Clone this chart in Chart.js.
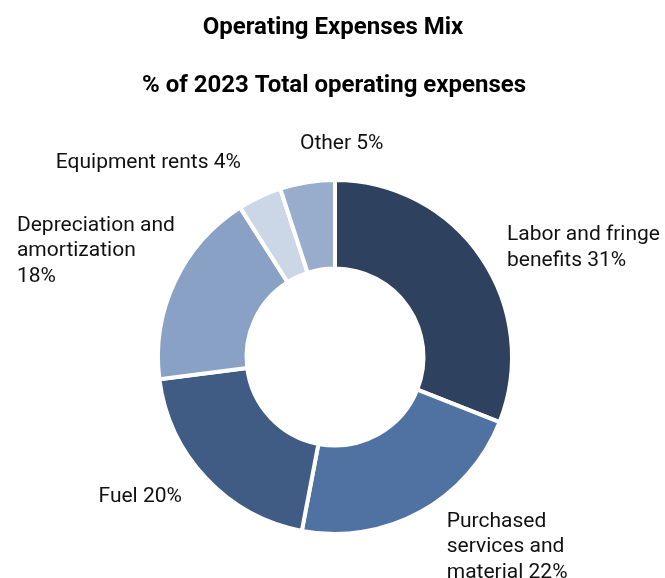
<!DOCTYPE html>
<html>
<head>
<meta charset="utf-8">
<script src="https://cdn.jsdelivr.net/npm/chart.js@4/dist/chart.umd.min.js"></script>
<style>
  html, body { margin: 0; padding: 0; background: #fff; }
  #wrap { width: 665px; height: 578px; }
</style>
</head>
<body>
<div id="wrap"><canvas id="mixChart" width="665" height="578"></canvas></div>
<script>
// =========================
// DATA
// =========================
const categories = [
    ["Labor and fringe", "benefits 31%"],
    ["Purchased", "services and", "material 22%"],
    ["Fuel 20%"],
    ["Depreciation and", "amortization", "18%"],
    ["Equipment rents 4%"],
    ["Other 5%"]
];
const shares = [31, 22, 20, 18, 4, 5];
const sliceColors = ["#2e415f", "#5072a2", "#405c85", "#88a1c4", "#cbd7e6", "#98accc"];

const titleText = "Operating Expenses Mix";
const subtitleText = "% of 2023 Total operating expenses";

// label placement: distance beyond outer edge, block side, baseline shift
const labelLayout = [
    { gap: 31, side: "left",  dy: 0,   lineAnchor: 0 },
    { gap: 55, side: "left",  dy: 0,   lineAnchor: 0.66 },
    { gap: 33, side: "right", dy: 1,   lineAnchor: 0 },
    { gap: 0,  side: "right", dy: 0,   lineAnchor: 1 },
    { gap: 44, side: "right", dy: 11,  lineAnchor: 0 },
    { gap: 47, side: "left",  dy: 13,  lineAnchor: 0 }
];
const LINE_H = 25.5;
const LABEL_FONT = "21px Roboto";

// =========================
// TITLES + OUTSIDE LABELS
// =========================
const textPlugin = {
    id: "textPlugin",
    afterDraw(chart) {
        const c = chart.ctx;
        const w = chart.width;
        c.save();
        c.fillStyle = "#000";
        c.textAlign = "center";
        c.textBaseline = "alphabetic";
        c.font = "bold 24px Roboto";
        c.fillText(titleText, 333, 34);
        c.fillText(subtitleText, 334, 92);

        c.font = LABEL_FONT;
        c.fillStyle = "#111";
        c.textAlign = "left";
        const arcs = chart.getDatasetMeta(0).data;
        arcs.forEach((arc, i) => {
            const lay = labelLayout[i];
            const lines = categories[i];
            const mid = (arc.startAngle + arc.endAngle) / 2;
            const r = arc.outerRadius + lay.gap;
            const ax = arc.x + Math.cos(mid) * r;
            const ay = arc.y + Math.sin(mid) * r;
            const blockW = Math.max(...lines.map(l => c.measureText(l).width));
            const x0 = lay.side === "left" ? ax : ax - blockW;
            const firstBase = ay + lay.dy - lay.lineAnchor * (lines.length - 1) * LINE_H;
            lines.forEach((l, k) => c.fillText(l, x0, firstBase + k * LINE_H));
        });
        c.restore();
    }
};

// =========================
// DOUGHNUT
// =========================
new Chart(document.getElementById("mixChart"), {
    type: "doughnut",
    data: {
        labels: categories.map(l => l.join(" ")),
        datasets: [{
            data: shares,
            backgroundColor: sliceColors,
            borderColor: "#ffffff",
            borderWidth: 4
        }]
    },
    options: {
        responsive: false,
        animation: false,
        radius: 177,
        cutout: "50%",
        layout: { padding: { left: 5, right: 0, top: 136, bottom: 0 } },
        plugins: {
            legend: { display: false },
            title: { display: false },
            tooltip: { enabled: false }
        }
    },
    plugins: [textPlugin]
});
</script>
</body>
</html>
